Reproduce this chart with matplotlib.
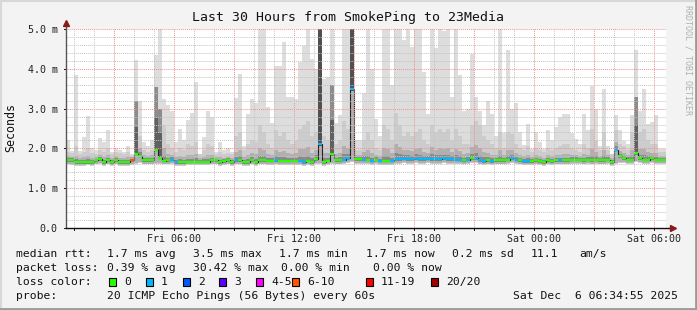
import numpy as np
import matplotlib
matplotlib.use("Agg")
import matplotlib.pyplot as plt
from matplotlib.patches import Rectangle
from matplotlib.lines import Line2D

# 150 bins of 12 min, Fri 00:36 .. Sat 06:36 (hours since start)
BIN_H = 0.2

rtt_max = [
    2.22, 1.93, 3.84, 1.93, 2.28, 2.81, 2.00, 1.95, 2.25, 2.15,
    2.45, 1.90, 2.00, 1.95, 1.90, 2.05, 1.85, 4.22, 3.20, 2.15,
    2.05, 2.20, 4.34, 5.00, 3.25, 3.10, 2.95, 2.17, 2.50, 2.20,
    2.72, 2.90, 3.67, 1.87, 2.28, 2.93, 2.78, 1.92, 2.17, 1.97,
    2.00, 1.90, 3.26, 3.88, 2.07, 2.87, 3.25, 3.15, 5.00, 5.00,
    3.05, 2.65, 4.07, 4.07, 4.67, 3.30, 3.30, 3.23, 4.17, 4.57,
    5.00, 4.24, 4.00, 5.00, 3.74, 3.80, 5.00, 2.65, 2.85, 5.00,
    5.00, 5.00, 2.20, 2.20, 3.40, 5.00, 4.00, 2.74, 2.30, 5.00,
    5.00, 3.60, 5.00, 5.00, 4.72, 5.00, 4.55, 5.00, 5.00, 3.92,
    2.87, 5.00, 4.53, 5.00, 4.95, 5.00, 3.29, 5.00, 3.85, 2.95,
    2.98, 4.38, 3.29, 2.95, 2.59, 3.18, 2.87, 2.32, 5.00, 2.39,
    4.47, 2.99, 3.15, 2.40, 2.09, 2.61, 1.98, 2.40, 2.15, 1.98,
    2.45, 2.22, 2.53, 2.78, 2.87, 2.87, 2.39, 2.24, 2.11, 2.87,
    2.45, 3.56, 2.98, 2.07, 3.48, 2.07, 1.85, 2.83, 2.45, 2.19,
    2.11, 2.84, 4.47, 2.95, 3.48, 2.61, 2.66, 2.84, 1.98, 1.98,
]

rtt_upper = [
    1.90, 1.88, 2.05, 1.85, 1.90, 2.00, 1.88, 1.85, 1.95, 1.92,
    2.00, 1.85, 1.90, 1.88, 1.85, 1.90, 1.82, 3.20, 2.30, 1.95,
    1.90, 1.95, 3.55, 3.00, 2.60, 2.10, 2.00, 1.90, 2.00, 1.95,
    2.10, 2.05, 2.15, 1.85, 1.95, 2.10, 2.05, 1.85, 1.90, 1.85,
    1.88, 1.85, 2.30, 2.40, 1.95, 2.10, 2.20, 2.15, 2.60, 2.40,
    2.10, 2.00, 2.45, 2.30, 2.40, 2.20, 2.10, 2.20, 2.50, 2.60,
    2.70, 2.30, 2.40, 5.00, 2.30, 2.20, 3.60, 2.10, 2.20, 2.70,
    2.50, 5.00, 1.95, 1.95, 2.20, 2.40, 2.20, 2.00, 1.95, 2.60,
    2.50, 2.20, 2.90, 2.60, 2.30, 2.40, 2.30, 2.40, 2.50, 2.20,
    2.10, 2.60, 2.40, 2.50, 2.40, 2.50, 2.20, 2.50, 2.30, 2.10,
    2.10, 2.60, 2.70, 2.60, 2.30, 2.20, 2.10, 2.00, 2.40, 2.00,
    2.40, 2.35, 2.10, 2.00, 1.95, 2.05, 1.90, 2.00, 1.95, 1.90,
    2.00, 1.95, 2.00, 2.05, 2.10, 2.10, 2.00, 1.95, 1.92, 2.10,
    2.00, 2.50, 2.20, 1.95, 2.40, 1.95, 1.85, 2.45, 2.10, 2.05,
    1.95, 2.40, 3.30, 2.40, 2.50, 2.20, 2.10, 2.10, 1.90, 1.90,
]

rtt_median = [
    1.70, 1.70, 1.66, 1.66, 1.66, 1.66, 1.66, 1.70, 1.73, 1.66,
    1.70, 1.66, 1.71, 1.66, 1.65, 1.66, 1.70, 1.87, 1.82, 1.71,
    1.71, 1.71, 1.97, 1.77, 1.69, 1.70, 1.72, 1.66, 1.66, 1.65,
    1.67, 1.67, 1.67, 1.67, 1.67, 1.67, 1.70, 1.70, 1.66, 1.68,
    1.70, 1.66, 1.70, 1.70, 1.66, 1.66, 1.70, 1.66, 1.70, 1.70,
    1.69, 1.69, 1.70, 1.69, 1.69, 1.69, 1.69, 1.69, 1.69, 1.66,
    1.69, 1.66, 1.73, 2.10, 1.66, 1.69, 1.85, 1.70, 1.70, 1.72,
    1.76, 3.50, 1.73, 1.73, 1.72, 1.72, 1.69, 1.72, 1.69, 1.69,
    1.69, 1.69, 1.73, 1.73, 1.74, 1.73, 1.73, 1.76, 1.73, 1.73,
    1.74, 1.73, 1.73, 1.73, 1.75, 1.73, 1.73, 1.72, 1.72, 1.70,
    1.72, 1.75, 1.75, 1.70, 1.68, 1.70, 1.68, 1.70, 1.70, 1.70,
    1.72, 1.75, 1.72, 1.70, 1.68, 1.68, 1.68, 1.70, 1.68, 1.65,
    1.70, 1.68, 1.70, 1.70, 1.70, 1.70, 1.72, 1.72, 1.72, 1.70,
    1.72, 1.70, 1.72, 1.70, 1.70, 1.72, 1.66, 1.97, 1.80, 1.76,
    1.72, 1.72, 1.88, 1.75, 1.72, 1.72, 1.75, 1.72, 1.72, 1.72,
]

rtt_min = [
    1.60, 1.58, 1.57, 1.57, 1.57, 1.58, 1.57, 1.60, 1.62, 1.57,
    1.60, 1.57, 1.60, 1.57, 1.56, 1.57, 1.59, 1.62, 1.64, 1.60,
    1.60, 1.60, 1.62, 1.62, 1.60, 1.60, 1.62, 1.57, 1.57, 1.56,
    1.58, 1.58, 1.58, 1.58, 1.58, 1.58, 1.60, 1.60, 1.57, 1.58,
    1.60, 1.57, 1.60, 1.60, 1.57, 1.57, 1.60, 1.57, 1.60, 1.60,
    1.59, 1.59, 1.60, 1.59, 1.59, 1.59, 1.59, 1.59, 1.59, 1.57,
    1.59, 1.57, 1.62, 1.62, 1.57, 1.59, 1.62, 1.60, 1.60, 1.62,
    1.64, 1.66, 1.62, 1.62, 1.62, 1.62, 1.59, 1.62, 1.59, 1.59,
    1.59, 1.59, 1.62, 1.62, 1.63, 1.62, 1.62, 1.64, 1.62, 1.62,
    1.63, 1.62, 1.62, 1.62, 1.64, 1.62, 1.62, 1.61, 1.61, 1.60,
    1.61, 1.63, 1.63, 1.60, 1.58, 1.60, 1.58, 1.60, 1.60, 1.60,
    1.61, 1.63, 1.61, 1.60, 1.58, 1.58, 1.58, 1.60, 1.58, 1.56,
    1.60, 1.58, 1.60, 1.60, 1.60, 1.60, 1.62, 1.62, 1.62, 1.60,
    1.62, 1.60, 1.62, 1.60, 1.60, 1.62, 1.57, 1.62, 1.64, 1.64,
    1.62, 1.62, 1.66, 1.64, 1.62, 1.62, 1.64, 1.62, 1.62, 1.62,
]

# lost pings (out of 20) per bin
lost_pings = [0] * 150
for i in [26, 27, 42, 52, 58, 59, 63, 69, 70, 71, 74, 76, 78, 81,
          82, 83, 84, 85, 86, 87, 88, 89, 90, 91, 92, 93, 94, 95, 96, 97, 98,
          100, 102, 103, 104, 106, 111, 112, 114, 115, 123, 137]:
    lost_pings[i] = 1
lost_pings[16] = 6

loss_labels = ["0", "1", "2", "3", "4-5", "6-10", "11-19", "20/20"]
loss_colors = ["#26ff00", "#00b8ff", "#0059ff", "#5e00ff",
               "#ff00fe", "#ff5500", "#ff0000", "#a10000"]

x_ticks_h = [5.4, 11.4, 17.4, 23.4, 29.4]
x_tick_labels = ["Fri 06:00", "Fri 12:00", "Fri 18:00", "Sat 00:00", "Sat 06:00"]
y_ticks = [0, 1, 2, 3, 4, 5]
y_tick_labels = ["0.0", "1.0 m", "2.0 m", "3.0 m", "4.0 m", "5.0 m"]


def loss_color(n):
    limites = [0, 1, 2, 3, 5, 10, 19, 20]
    for lim, cor in zip(limites, loss_colors):
        if n <= lim:
            return cor
    return loss_colors[-1]


W, H = 697, 310
MONO = "DejaVu Sans Mono"
plt.rcParams["font.family"] = MONO

fig = plt.figure(figsize=(W / 100, H / 100), dpi=100, facecolor="#f3f3f3")

# plot area in pixels: x 66..666, y 29..228
ax = fig.add_axes([66 / W, (H - 228) / H, 600 / W, (228 - 29) / H])
ax.set_facecolor("white")
ax.set_xlim(0, 30)
ax.set_ylim(0, 5)

n = len(rtt_median)
edges = np.arange(n + 1) * BIN_H
ext = lambda a: np.append(np.asarray(a, float), a[-1])

mx, up, md, mn = map(np.asarray, (rtt_max, rtt_upper, rtt_median, rtt_min))

# fumaça (smoke) em camadas de cinza
ax.fill_between(edges, ext(mn), ext(mx), step="post", color="#dddddd", lw=0, zorder=1)
ax.fill_between(edges, ext(mn), ext(up), step="post", color="#cccccc", lw=0, zorder=2)
mid = md + 0.3 * (up - md) + 0.04
ax.fill_between(edges, ext(mn + 0.02), ext(mid), step="post", color="#b0b0b0", lw=0, zorder=3)
core = md + 0.1 * (up - md) + 0.03
ax.fill_between(edges, ext(md - 0.04), ext(core), step="post", color="#8a8a8a", lw=0, zorder=4)
# colunas escuras nos picos
for i in range(n):
    if up[i] >= 4.5:
        ax.fill_between([edges[i], edges[i + 1]], md[i] - 0.05, up[i], color="#505050", lw=0, zorder=4)
    elif up[i] >= 3.0:
        ax.fill_between([edges[i], edges[i + 1]], md[i], up[i], color="#8c8c8c", lw=0, zorder=4)
        ax.fill_between([edges[i], edges[i + 1]], md[i], md[i] + 0.5 * (up[i] - md[i]),
                        color="#606060", lw=0, zorder=4)

# mediana
ax.step(edges, ext(md), where="post", color="#222222", lw=0.8, zorder=5)
for i in range(n):
    ax.hlines(md[i], edges[i], edges[i + 1], color=loss_color(lost_pings[i]), lw=1.6, zorder=6)

# grade
grid_minor = dict(color="#c4c4c4", lw=0.7, ls=(0, (1, 1)), zorder=7)
grid_major = dict(color="#f09090", lw=0.7, ls=(0, (1, 1)), zorder=7)
for h in np.arange(0.4, 30, 1.0):
    is_major = abs(((h - 2.4) / 3) - round((h - 2.4) / 3)) < 1e-6
    ax.axvline(h, **(grid_major if is_major else grid_minor))
for v in np.arange(0.2, 5.01, 0.2):
    is_major = abs(v - round(v)) < 1e-6
    ax.axhline(v, **(grid_major if is_major else grid_minor))

for s in ax.spines.values():
    s.set_visible(False)
ax.set_xticks(x_ticks_h)
ax.set_xticklabels(x_tick_labels)
ax.set_yticks(y_ticks)
ax.set_yticklabels(y_tick_labels)
ax.tick_params(axis="both", length=0, labelsize=7.2, colors="#222222", pad=4)
ax.tick_params(axis="y", pad=6)

# eixos com setas
ax.plot([0, 0], [0, 5.15], color="#555555", lw=1, clip_on=False, zorder=8)
ax.plot([0, 30.3], [0, 0], color="#111111", lw=1, clip_on=False, zorder=8)
ax.plot([0], [5.15], marker="^", color="#8b1a1a", ms=4, clip_on=False, zorder=9)
ax.plot([30.35], [0], marker=">", color="#8b1a1a", ms=4, clip_on=False, zorder=9)
for h in np.arange(0.4, 30, 1.0):
    ax.plot([h, h], [0, -0.05], color="#111111", lw=0.7, clip_on=False)
for v in y_ticks:
    ax.plot([0, -0.1], [v, v], color="#111111", lw=0.7, clip_on=False)


def px(x, y):
    return x / W, 1 - y / H


fig.text(*px(348, 18), "Last 30 Hours from SmokePing to 23Media", ha="center", va="center",
         fontsize=9.5, color="#111111")
fig.text(*px(11, 128), "Seconds", ha="center", va="center", rotation=90, fontsize=8.4,
         color="#111111")
fig.text(*px(688, 60), "RRDTOOL / TOBI OETIKER", ha="center", va="center", rotation=270,
         fontsize=6, color="#b0b0b0")

fs = 8.2
linhas = [
    (254, [(16, "median rtt:"), (107, "1.7 ms avg"), (193, "3.5 ms max"), (279, "1.7 ms min"),
           (366, "1.7 ms now"), (452, "0.2 ms sd"), (531, "11.1"), (579, "am/s")]),
    (268, [(16, "packet loss:"), (107, "0.39 % avg"), (193, "30.42 % max"), (281, "0.00 % min"),
           (373, "0.00 % now")]),
    (282, [(16, "loss color:")]),
    (296, [(16, "probe:"), (107, "20 ICMP Echo Pings (56 Bytes) every 60s"),
           (513, "Sat Dec  6 06:34:55 2025")]),
]
for y, partes in linhas:
    for x, txt in partes:
        fig.text(*px(x, y), txt, ha="left", va="center", fontsize=fs, color="#111111")

box_x = [109, 146, 183, 219, 256, 292, 366, 431]
for bx, cor, lab in zip(box_x, loss_colors, loss_labels):
    fig.patches.append(Rectangle(px(bx, 286), 7 / W, 8 / H, transform=fig.transFigure,
                                 facecolor=cor, edgecolor="black", lw=0.8))
    fig.text(*px(bx + 15, 282), lab, ha="left", va="center", fontsize=fs, color="#111111")

# moldura
fig.lines.append(Line2D([0, 1], [1 - 0.5 / H, 1 - 0.5 / H], transform=fig.transFigure,
                        color="#d8d8d8", lw=1.5))
fig.lines.append(Line2D([0.5 / W, 0.5 / W], [0, 1], transform=fig.transFigure,
                        color="#d8d8d8", lw=1.5))
fig.lines.append(Line2D([0, 1], [0.8 / H, 0.8 / H], transform=fig.transFigure,
                        color="#9a9a9a", lw=2))
fig.lines.append(Line2D([1 - 0.8 / W, 1 - 0.8 / W], [0, 1], transform=fig.transFigure,
                        color="#9a9a9a", lw=2))

fig.savefig("out.png", dpi=100, facecolor=fig.get_facecolor())
